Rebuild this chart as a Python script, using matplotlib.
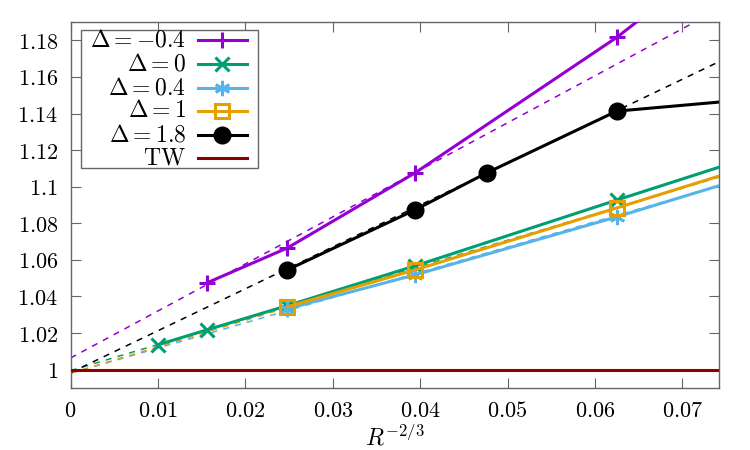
import matplotlib
matplotlib.use("Agg")
import matplotlib.pyplot as plt
from matplotlib.patches import Rectangle
from matplotlib.ticker import FuncFormatter, MultipleLocator

plt.rcParams['mathtext.fontset'] = 'cm'
plt.rcParams['font.family'] = ['DejaVu Serif']

# data (x = R^{-2/3})
x_m04 = [0.015625, 0.0248, 0.0394, 0.0625, 0.0992]
y_m04 = [1.0475, 1.0665, 1.1075, 1.1816, 1.318]

x_d0 = [0.01, 0.015625, 0.0248, 0.0394, 0.0625, 0.0992]
y_d0 = [1.0136, 1.0218, 1.035, 1.0567, 1.0927, 1.149]

x_d04 = [0.0248, 0.0394, 0.0625, 0.0992]
y_d04 = [1.0333, 1.0518, 1.0835, 1.137]

x_d1 = [0.0248, 0.0394, 0.0625, 0.0992]
y_d1 = [1.0344, 1.0545, 1.0884, 1.143]

x_d18 = [0.0248, 0.0394, 0.0476, 0.0625, 0.0992]
y_d18 = [1.0545, 1.0873, 1.1075, 1.1413, 1.1568]

# extrapolation (dashed) lines, value at x = 0 and x = 0.08
fit_x = [0.0, 0.08]
fit_m04 = [1.0064, 1.2120]
fit_d0 = [0.9995, 1.1135]
fit_d04 = [0.9980, 1.1085]
fit_d1 = [0.9980, 1.1140]
fit_d18 = [0.9984, 1.1816]

tw_x = [0.0, 0.08]
tw_y = [1.0, 1.0]

labels = [r'$\Delta = -0.4$', r'$\Delta = 0$', r'$\Delta = 0.4$',
          r'$\Delta = 1$', r'$\Delta = 1.8$', r'$\mathrm{TW}$']

c_purple = '#9400d3'
c_green = '#009e73'
c_blue = '#56b4e9'
c_orange = '#e69f00'
c_black = '#000000'
c_red = '#8b0000'

fig = plt.figure(figsize=(7.5, 4.5), dpi=100)
ax = fig.add_axes([0.0941, 0.1378, 0.8646, 0.8133])

dash = (0, (4, 4))
for fy, c in [(fit_m04, c_purple), (fit_d0, c_green), (fit_d04, c_blue),
              (fit_d1, c_orange), (fit_d18, c_black)]:
    ax.plot(fit_x, fy, color=c, lw=1.1, linestyle=dash, zorder=2)

lw = 2.2
styles = [
    dict(color=c_purple, marker='+', ms=12, mew=2.2),
    dict(color=c_green, marker='x', ms=10, mew=2.2),
    dict(color=c_blue, marker=(6, 2, 0), ms=11, mew=2.0),
    dict(color=c_orange, marker='s', ms=10, mew=2.2, mfc='none'),
    dict(color=c_black, marker='o', ms=12),
    dict(color=c_red),
]
series = [(x_m04, y_m04), (x_d0, y_d0), (x_d04, y_d04), (x_d1, y_d1),
          (x_d18, y_d18), (tw_x, tw_y)]
zs = [3, 3, 3, 4, 3, 5]
for (xs, ys), st, z in zip(series, styles, zs):
    ax.plot(xs, ys, lw=lw, zorder=z, **st)

ax.set_xlim(0, 0.0742)
ax.set_ylim(0.99, 1.19)

ax.xaxis.set_major_locator(MultipleLocator(0.01))
ax.yaxis.set_major_locator(MultipleLocator(0.02))


def fmt(v, pos):
    s = ('%.2f' % v).rstrip('0').rstrip('.')
    return '$' + s + '$'


ax.xaxis.set_major_formatter(FuncFormatter(fmt))
ax.yaxis.set_major_formatter(FuncFormatter(fmt))
ax.tick_params(direction='in', length=7, width=0.8, color='0.4',
               top=True, right=True, labelsize=16, pad=9)
for s in ax.spines.values():
    s.set_color('0.4')
    s.set_linewidth(1.0)

ax.set_xlabel(r'$R^{-2/3}$', fontsize=17, labelpad=1)

# legend drawn by hand (gnuplot style: text right-aligned, sample on the right)
ax.add_patch(Rectangle((0.016, 0.601), 0.273, 0.377, transform=ax.transAxes,
                       facecolor='white', edgecolor='0.4', lw=1.0, zorder=10))
leg_y = [0.951, 0.885, 0.820, 0.757, 0.691, 0.628]
for lab, st, yy in zip(labels, styles, leg_y):
    ax.text(0.178, yy, lab, transform=ax.transAxes, ha='right', va='center',
            fontsize=17, zorder=11)
    line_st = {k: v for k, v in st.items() if k not in ('marker', 'ms', 'mew', 'mfc')}
    ax.plot([0.1965, 0.272], [yy, yy], transform=ax.transAxes, lw=lw,
            clip_on=False, zorder=11, **line_st)
    if 'marker' in st:
        ax.plot([0.234], [yy], transform=ax.transAxes, lw=0, clip_on=False,
                zorder=12, **st)

fig.savefig('out.png', dpi=100)
